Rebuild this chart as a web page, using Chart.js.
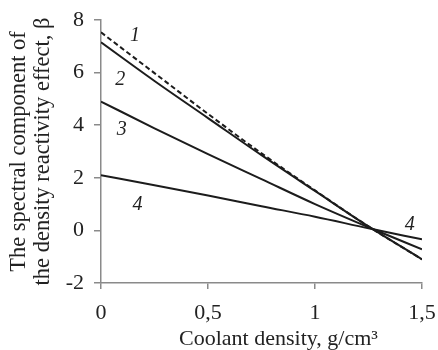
<!DOCTYPE html>
<html><head><meta charset="utf-8">
<script src="https://cdn.jsdelivr.net/npm/chart.js@4"></script>
<style>html,body{margin:0;padding:0;background:#fff;}#wrap{width:438px;height:350px;position:relative;}</style>
</head><body><div id="wrap"><canvas id="c" width="438" height="350"></canvas></div>
<script>
const xValues = [0, 0.25, 0.5, 0.75, 1, 1.25, 1.5];
const series1 = [7.53, 5.98, 4.43, 2.93, 1.52, 0.15, -1.1];
const series2 = [7.15, 5.68, 4.27, 2.86, 1.5, 0.15, -1.1];
const series3 = [4.9, 3.88, 2.9, 1.95, 1.0, 0.12, -0.72];
const series4 = [2.1, 1.72, 1.33, 0.92, 0.52, 0.08, -0.34];
const seriesNames = ['1', '2', '3', '4'];
const xTickValues = [0, 0.5, 1, 1.5];
const xTickLabels = ['0', '0,5', '1', '1,5'];
const yTickValues = [-2, 0, 2, 4, 6, 8];
const yTickLabels = ['-2', '0', '2', '4', '6', '8'];
const xTitle = 'Coolant density, g/cm\u00B3';
const yTitle = ['The spectral component of', 'the density reactivity effect, \u03B2'];
const curveLabelText = ['1', '2', '3', '4', '4'];
const curveLabelX = [0.159, 0.09, 0.097, 0.17, 1.443];
const curveLabelY = [7.39, 5.72, 3.83, 0.99, 0.21];

const FONT = '"Liberation Serif", "Times New Roman", serif';
const INK = '#222222';
const AXIS = '#8a8a8a';

function pts(series) { return xValues.map((x, i) => ({ x: x, y: series[i] })); }
function lineDs(name, series, dashed) {
  return {
    label: name, data: pts(series), borderColor: '#1c1c1c', borderWidth: 2,
    borderDash: dashed ? [5, 3] : [], pointRadius: 0, fill: false,
    cubicInterpolationMode: 'monotone'
  };
}

const labelPlugin = {
  id: 'labels',
  afterDatasetsDraw(chart) {
    const { ctx, chartArea, scales: { x, y } } = chart;
    ctx.save();
    ctx.fillStyle = INK;
    ctx.textAlign = 'center';
    ctx.textBaseline = 'middle';
    ctx.font = 'italic 20px ' + FONT;
    curveLabelText.forEach((t, i) => {
      ctx.fillText(t, x.getPixelForValue(curveLabelX[i]), y.getPixelForValue(curveLabelY[i]));
    });
    ctx.font = '22px ' + FONT;
    ctx.textBaseline = 'alphabetic';
    ctx.fillText(xTitle, (chartArea.left + chartArea.right) / 2 + 17, chartArea.bottom + 62);
    ctx.restore();
  }
};

new Chart(document.getElementById('c'), {
  type: 'line',
  data: {
    datasets: [
      lineDs(seriesNames[0], series1, true),
      lineDs(seriesNames[1], series2, false),
      lineDs(seriesNames[2], series3, false),
      lineDs(seriesNames[3], series4, false)
    ]
  },
  options: {
    responsive: false, animation: false, devicePixelRatio: 1,
    layout: { padding: { left: 0, right: 16, top: 20, bottom: 0 } },
    plugins: { legend: { display: false }, tooltip: { enabled: false } },
    scales: {
      x: {
        type: 'linear', min: 0, max: 1.5,
        ticks: {
          stepSize: 0.5, maxRotation: 0, autoSkip: false, padding: 11, color: INK,
          font: { family: FONT, size: 22 },
          callback: (v) => { const i = xTickValues.indexOf(v); return i >= 0 ? xTickLabels[i] : ''; }
        },
        grid: { drawOnChartArea: false, drawTicks: true, tickLength: 6, color: AXIS, lineWidth: 1.5 },
        border: { display: true, color: AXIS, width: 1.5 },
        afterFit: (s) => { s.height = 67; s.paddingLeft = 0; s.paddingRight = 0; }
      },
      y: {
        type: 'linear', min: -2, max: 8,
        ticks: {
          stepSize: 2, padding: 10, color: INK,
          font: { family: FONT, size: 22 },
          callback: (v) => { const i = yTickValues.indexOf(v); return i >= 0 ? yTickLabels[i] : ''; }
        },
        grid: { drawOnChartArea: false, drawTicks: true, tickLength: 7, color: AXIS, lineWidth: 1.5 },
        border: { display: true, color: AXIS, width: 1.5 },
        title: {
          display: true, text: yTitle, color: INK,
          font: { family: FONT, size: 22.5, lineHeight: 1.03 },
          padding: { top: 8, bottom: 0 }
        },
        afterFit: (s) => { s.width = 101; s.paddingTop = 0; s.paddingBottom = 0; }
      }
    }
  },
  plugins: [labelPlugin]
});
</script></body></html>
